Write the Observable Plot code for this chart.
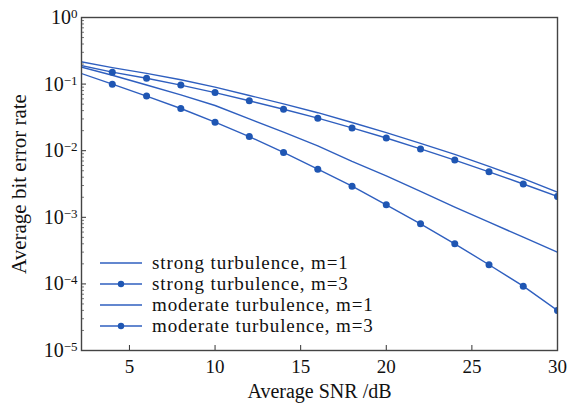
<!DOCTYPE html>
<html>
<head>
<meta charset="utf-8">
<script src="https://cdn.jsdelivr.net/npm/d3@7"></script>
<script src="https://cdn.jsdelivr.net/npm/@observablehq/plot@0.6"></script>
<style>
  html, body { margin: 0; padding: 0; background: #fff; }
  #wrap { position: relative; width: 579px; height: 403px; font-family: "Liberation Serif", "DejaVu Serif", serif; }
  #legend { position: absolute; left: 99px; top: 252px; font-size: 19px; color: #111; letter-spacing: 0.9px; }
  #legend .row { display: flex; align-items: center; height: 21px; white-space: nowrap; }
  #legend svg { margin-right: 9px; }
</style>
</head>
<body>
<div id="wrap"><div id="legend"></div></div>
<script>
// SNR (dB) sample positions
const snr = [2, 4, 6, 8, 10, 12, 14, 16, 18, 20, 22, 24, 26, 28, 30];
// Average bit error rate
const strongM1   = [0.220, 0.177, 0.145, 0.116, 0.0900, 0.0675, 0.0505, 0.0372, 0.0265, 0.0187, 0.0129, 0.0088, 0.0058, 0.0038, 0.00238];
const strongM3   = [0.195, 0.151, 0.1225, 0.0966, 0.0745, 0.0562, 0.0419, 0.0308, 0.0220, 0.0155, 0.01064, 0.00724, 0.00481, 0.00316, 0.00205];
const moderateM1 = [0.185, 0.136, 0.097, 0.069, 0.0477, 0.0301, 0.0190, 0.0118, 0.0069, 0.0042, 0.00245, 0.00142, 0.000845, 0.000503, 0.000299];
const moderateM3 = [0.150, 0.0997, 0.066, 0.043, 0.0268, 0.0163, 0.0094, 0.00528, 0.00293, 0.00154, 0.000798, 0.000400, 0.000194, 0.0000925, 0.0000399];

const seriesNames = ["strong turbulence, m=1", "strong turbulence, m=3", "moderate turbulence, m=1", "moderate turbulence, m=3"];
const seriesValues = [strongM1, strongM3, moderateM1, moderateM3];
const seriesMarkers = [false, true, false, true];

const xTicks = [5, 10, 15, 20, 25, 30];
const yMajor = [1e-5, 1e-4, 1e-3, 1e-2, 1e-1, 1];
const yExponents = ["−5", "−4", "−3", "−2", "−1", "0"];

const lineColor = "#2f5fbf";
const dotColor = "#1f56b3";
const fontFamily = "'Liberation Serif', 'DejaVu Serif', serif";

const rows = [];
seriesValues.forEach((vals, i) => {
  vals.forEach((v, j) => rows.push({series: seriesNames[i], snr: snr[j], ber: v, marker: seriesMarkers[i]}));
});
const dotRows = rows.filter(d => d.marker && d.snr >= 4);

const yMinor = [];
for (let e = -5; e < 0; e++) for (let k = 2; k <= 9; k++) yMinor.push(k * Math.pow(10, e));

const W = 579, H = 403, mL = 81, mR = 22, mT = 17, mB = 53;
const innerW = W - mL - mR, innerH = H - mT - mB;

const chart = Plot.plot({
  width: W, height: H,
  marginLeft: mL, marginRight: mR, marginTop: mT, marginBottom: mB,
  style: {fontFamily, fontSize: "19px", color: "#111", background: "white", overflow: "visible"},
  x: {domain: [2.2, 30]},
  y: {type: "log", domain: [1e-5, 1]},
  marks: [
    Plot.line(rows, {x: "snr", y: "ber", z: "series", stroke: lineColor, strokeWidth: 1.4, clip: true}),
    Plot.dot(dotRows, {x: "snr", y: "ber", r: 3.5, fill: dotColor, stroke: "none", clip: true}),
    Plot.axisX(xTicks, {tickSize: 0, tickPadding: 9, label: null, fontSize: 19}),
    Plot.axisY(yMajor, {tickSize: 0, tickPadding: 4, label: null, fontSize: 20,
      tickFormat: (d) => "10^" + yExponents[yMajor.indexOf(d)]}),
    Plot.ruleX(xTicks, {stroke: "#333", strokeWidth: 1, insetTop: innerH - 5}),
    Plot.ruleY(yMajor, {stroke: "#333", strokeWidth: 1, insetRight: innerW - 5}),
    Plot.ruleY(yMinor, {stroke: "#555", strokeWidth: 0.8, insetRight: innerW - 3}),
    Plot.frame({stroke: "#444", strokeWidth: 1.4}),
    Plot.text(["Average SNR /dB"], {frameAnchor: "bottom", dy: 47, fontSize: 20, fill: "#111"}),
    Plot.text(["Average bit error rate"], {frameAnchor: "left", textAnchor: "middle", rotate: -90, dx: -62, fontSize: 21, fill: "#111"})
  ]
});
document.getElementById("wrap").prepend(chart);

// turn "10^e" tick labels into a base with a raised exponent
chart.querySelectorAll("text").forEach((t) => {
  const m = /^10\^(.+)$/.exec(t.textContent);
  if (!m) return;
  t.textContent = "10";
  const sup = document.createElementNS("http://www.w3.org/2000/svg", "tspan");
  sup.setAttribute("dy", "-0.45em");
  sup.setAttribute("font-size", "13");
  sup.textContent = m[1];
  t.appendChild(sup);
});

const legend = document.getElementById("legend");
seriesNames.forEach((name, i) => {
  const row = document.createElement("div");
  row.className = "row";
  const ns = "http://www.w3.org/2000/svg";
  const s = document.createElementNS(ns, "svg");
  s.setAttribute("width", 44); s.setAttribute("height", 10);
  const l = document.createElementNS(ns, "line");
  l.setAttribute("x1", 1); l.setAttribute("x2", 43); l.setAttribute("y1", 5); l.setAttribute("y2", 5);
  l.setAttribute("stroke", lineColor); l.setAttribute("stroke-width", 1.4);
  s.appendChild(l);
  if (seriesMarkers[i]) {
    const c = document.createElementNS(ns, "circle");
    c.setAttribute("cx", 22); c.setAttribute("cy", 5); c.setAttribute("r", 3.2); c.setAttribute("fill", dotColor);
    s.appendChild(c);
  }
  row.appendChild(s);
  const t = document.createElement("span");
  t.textContent = name;
  row.appendChild(t);
  legend.appendChild(row);
});
</script>
</body>
</html>
